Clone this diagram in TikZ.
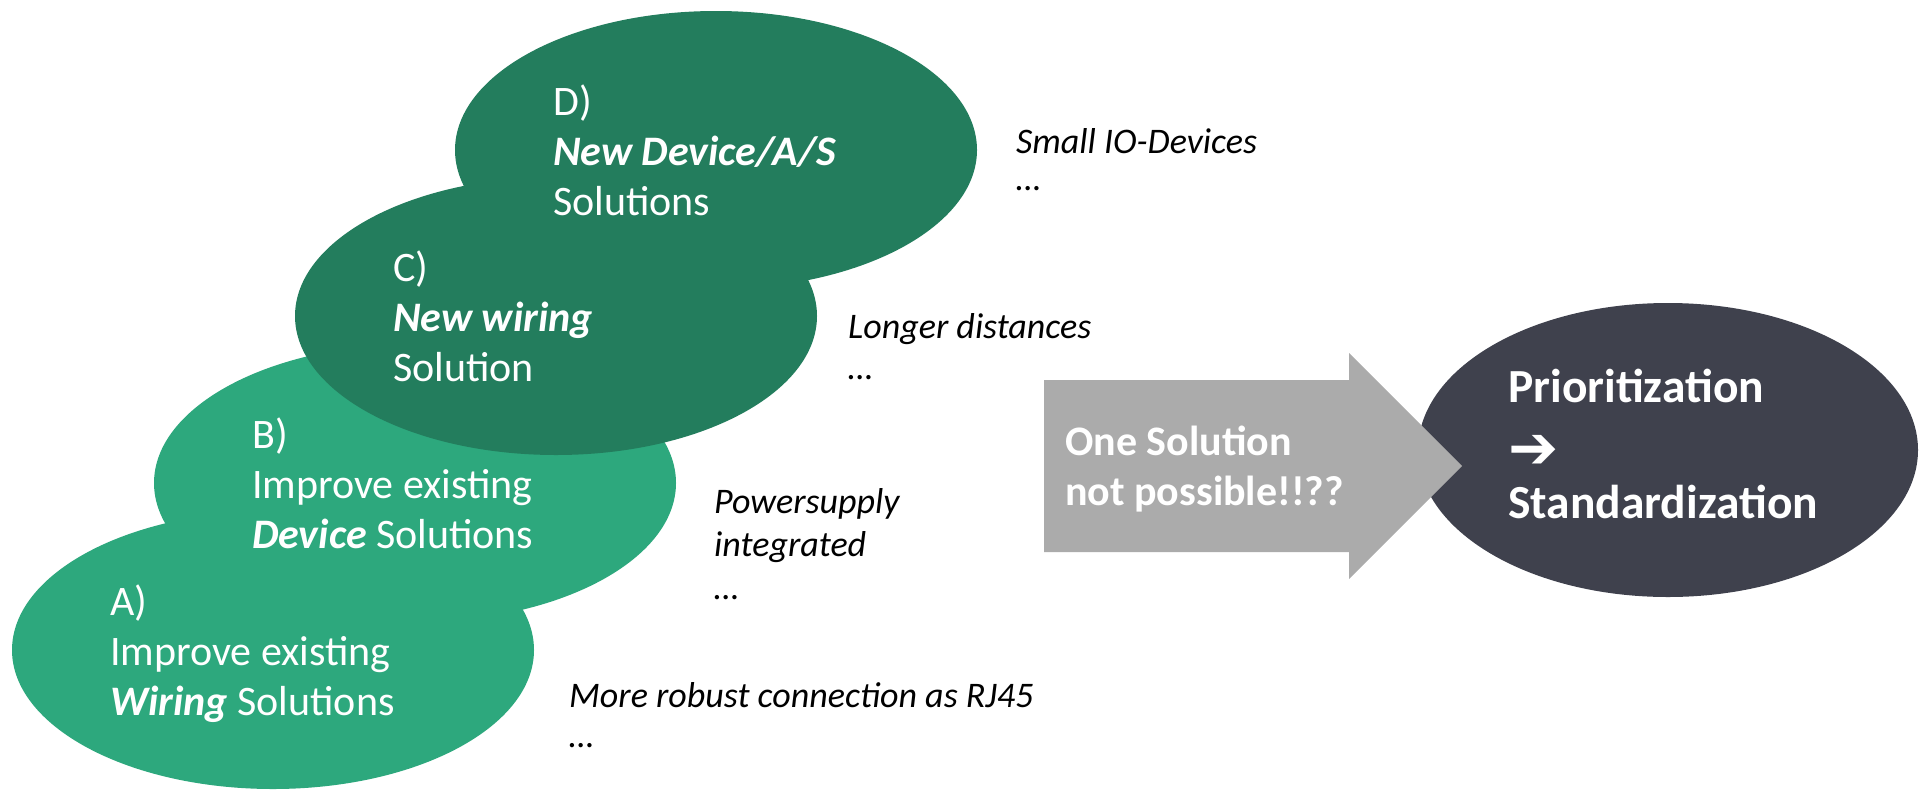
\documentclass[tikz,border=0pt]{standalone}
\usepackage{fontspec}
\setmainfont{Carlito}
\newfontfamily\symbolfont{DejaVu Sans}
\usetikzlibrary{shapes.geometric}

\definecolor{greenlight}{HTML}{2DA87D}
\definecolor{greendeep}{HTML}{237D5D}
\definecolor{slate}{HTML}{3F414D}
\definecolor{arrowgrey}{HTML}{ABABAB}

\tikzset{
  blob/.style={ellipse, minimum width=522pt, minimum height=278pt, inner sep=0pt},
  lightblob/.style={blob, fill=greenlight},
  deepblob/.style={blob, fill=greendeep},
  inline/.style={anchor=base west, inner sep=0pt, text=white, font=\fontsize{42}{50}\selectfont},
  note/.style={anchor=base west, inner sep=0pt, text=black, font=\fontsize{36}{44}\selectfont\itshape},
  bigline/.style={anchor=base west, inner sep=0pt, text=white, font=\fontsize{47.5}{58}\selectfont\bfseries},
  arrowline/.style={anchor=base west, inner sep=0pt, text=white, font=\fontsize{42}{50}\selectfont\bfseries},
}

\begin{document}
\begin{tikzpicture}[x=1pt, y=-1pt]
\useasboundingbox (0,0) rectangle (1919,790);

% four overlapping solution ellipses, bottom to top
\node[lightblob] (A) at (273,650) {};
\node[lightblob] (B) at (415,483) {};
\node[deepblob]  (C) at (556,316) {};
\node[deepblob]  (D) at (716,150) {};

% labels inside the ellipses
\node[inline] (A1) at (110,615) {A)};
\node[inline] (A2) at (110,665) {Improve existing};
\node[inline] (A3) at (110,715) {\textbf{\textit{Wiring}} Solutions};

\node[inline] (B1) at (252,448) {B)};
\node[inline] (B2) at (252,498) {Improve existing};
\node[inline] (B3) at (252,548) {\textbf{\textit{Device}} Solutions};

\node[inline] (C1) at (393,281) {C)};
\node[inline] (C2) at (393,331) {\textbf{\textit{New wiring}}};
\node[inline] (C3) at (393,381) {Solution};

\node[inline] (D1) at (553,115) {D)};
\node[inline] (D2) at (553,165) {\textbf{\textit{New Device/A/S}}};
\node[inline] (D3) at (553,215) {Solutions};

% examples beside each ellipse
\node[note] (nD1) at (1016,153) {Small IO-Devices};
\node[note] (nD2) at (1016,190) {…};

\node[note] (nC1) at (848,338) {Longer distances};
\node[note] (nC2) at (848,379) {…};

\node[note] (nB1) at (714,513) {Powersupply};
\node[note] (nB2) at (714,556) {integrated};
\node[note] (nB3) at (714,599) {…};

\node[note] (nA1) at (569,707) {More robust connection as RJ45};
\node[note] (nA2) at (569,747) {…};

% outcome ellipse
\node[ellipse, minimum width=500pt, minimum height=294pt, inner sep=0pt, fill=slate] (P) at (1668,450) {};
\node[bigline] (P1) at (1508,402) {Prioritization};
\node[bigline] (P2) at (1508,468) {\symbolfont\fontsize{60}{60}\selectfont ➔};
\node[bigline] (P3) at (1508,518) {Standardization};

% block arrow pointing into the outcome
\fill[arrowgrey] (1044,380) -- (1349,380) -- (1349,353) -- (1462,466)
  -- (1349,579) -- (1349,552) -- (1044,552) -- cycle;
\node[arrowline] (Q1) at (1065,455) {One Solution};
\node[arrowline] (Q2) at (1065,505) {not possible!!??};
\end{tikzpicture}
\end{document}
